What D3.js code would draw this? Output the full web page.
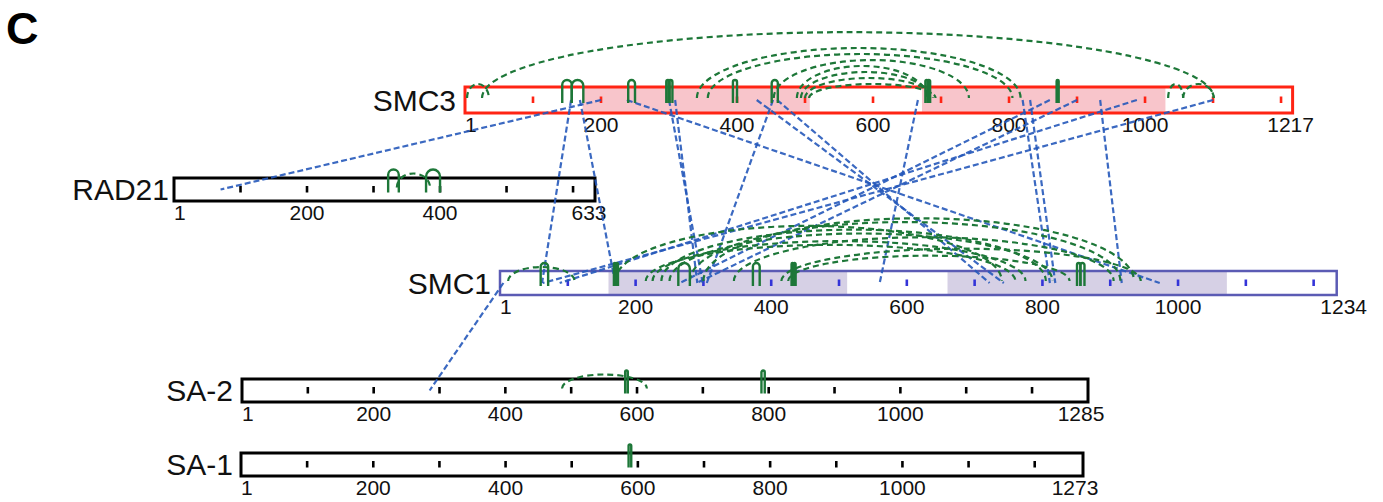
<!DOCTYPE html>
<html>
<head>
<meta charset="utf-8">
<script src="https://cdnjs.cloudflare.com/ajax/libs/d3/7.8.5/d3.min.js"></script>
<style>
  body { margin: 0; background: #fff; }
  svg { display: block; font-family: "Liberation Sans", Arial, sans-serif; }
</style>
</head>
<body>
<svg id="chart" width="1383" height="502"></svg>
<script>
// proteins and their lengths (residues)
var proteins = ["SMC3", "RAD21", "SMC1", "SA-2", "SA-1"];
var lengths = [1217, 633, 1234, 1285, 1273];
var tickLabels = [1, 200, 400, 600, 800, 1000];

// shaded coiled-coil regions
var smc3Regions = [[173, 507], [672, 1030]];
var smc1Regions = [[160, 512], [660, 1072]];

// intra-protein crosslinks (dashed green arcs)
var smc3Intra = [[3, 35], [25, 1101], [341, 817], [357, 805], [454, 741],
  [488, 680], [494, 684], [500, 688], [506, 692], [1034, 1056], [1056, 1101]];
var rad21Intra = [[335, 385]];
var smc1Intra = [[12, 110], [170, 740], [215, 760], [225, 775], [238, 805],
  [250, 815], [280, 915], [300, 935], [345, 905], [415, 945], [425, 840]];
var sa2Intra = [[486, 615]];
var sa1Intra = [];

// loop links (solid green loops)
var smc3Loops = [[143, 157], [157, 174], [240, 250], [296, 301], [299, 305],
  [394, 400], [451, 460], [677, 681], [680, 684], [870, 873]];
var rad21Loops = [[322, 338], [379, 400]];
var smc1Loops = [[60, 71], [168, 171], [171, 174], [263, 280], [373, 383],
  [430, 433], [433, 436], [851, 856], [856, 862]];
var sa2Loops = [[582, 586], [789, 794]];
var sa1Loops = [[586, 590]];

// inter-protein crosslinks (dashed blue lines)
var interLinks = [
  ["SMC3", 200, "RAD21", 70],
  ["SMC3", 156, "SMC1", 62],
  ["SMC3", 169, "SMC1", 170],
  ["SMC3", 300, "SMC1", 299],
  ["SMC3", 309, "SMC1", 291],
  ["SMC3", 453, "SMC1", 305],
  ["SMC3", 238, "SMC1", 973],
  ["SMC3", 429, "SMC1", 743],
  ["SMC3", 459, "SMC1", 722],
  ["SMC3", 1100, "SMC1", 63],
  ["SMC3", 988, "SMC1", 88],
  ["SMC3", 900, "SMC1", 290],
  ["SMC3", 860, "SMC1", 265],
  ["SMC3", 820, "SMC1", 811],
  ["SMC3", 831, "SMC1", 819],
  ["SMC3", 934, "SMC1", 917],
  ["SMC3", 666, "SMC1", 560],
  ["SMC1", 5, "SA-2", 285]
];

var intra = {"SMC3": smc3Intra, "RAD21": rad21Intra, "SMC1": smc1Intra, "SA-2": sa2Intra, "SA-1": sa1Intra};
var loops = {"SMC3": smc3Loops, "RAD21": rad21Loops, "SMC1": smc1Loops, "SA-2": sa2Loops, "SA-1": sa1Loops};
var regions = {"SMC3": smc3Regions, "SMC1": smc1Regions};

// where each bar sits on the page
var layout = {
  "SMC3":  {x0: 465, x1: 1292.6, cy: 100, h: 26, stroke: "#ff2414", sw: 3, tick: "#ff2414", fill: "#f8c5cb", labelX: 456, endDx: -2, gap: 6},
  "RAD21": {x0: 174, x1: 595, cy: 189.5, h: 23, stroke: "#000", sw: 3, tick: "#000", labelX: 169, endDx: -6, gap: 4},
  "SMC1":  {x0: 500, x1: 1336.7, cy: 283, h: 24, stroke: "#5b5bb4", sw: 2.5, tick: "#3434d8", fill: "#d6d0e5", labelX: 491, endDx: 7, gap: 3.8},
  "SA-2":  {x0: 242, x1: 1088, cy: 390.5, h: 23, stroke: "#000", sw: 3, tick: "#000", labelX: 233, endDx: -7, gap: 4},
  "SA-1":  {x0: 241, x1: 1083, cy: 464.5, h: 23, stroke: "#000", sw: 3, tick: "#000", labelX: 233, endDx: -8, gap: 4}
};

var green = "#1d7738";
var blue = "#2659bb";

var svg = d3.select("#chart");

var scales = {};
proteins.forEach(function(p, i) {
  scales[p] = d3.scaleLinear().domain([0, lengths[i]]).range([layout[p].x0, layout[p].x1]);
});

// panel letter
svg.append("text")
  .attr("x", 6)
  .attr("y", 44)
  .attr("font-size", 45)
  .attr("font-weight", "bold")
  .text("C");

// bars
var bars = svg.selectAll("g.protein")
  .data(proteins)
  .enter()
  .append("g")
  .attr("class", "protein");

bars.each(function(p, i) {
  var g = d3.select(this);
  var L = layout[p], x = scales[p], len = lengths[i];
  var top = L.cy - L.h / 2;

  g.append("rect")
    .attr("x", x(0)).attr("y", top)
    .attr("width", x(len) - x(0)).attr("height", L.h)
    .attr("fill", "#fff");

  g.selectAll("rect.region")
    .data(regions[p] || [])
    .enter()
    .append("rect")
    .attr("class", "region")
    .attr("x", function(d) { return x(d[0]); })
    .attr("y", top)
    .attr("width", function(d) { return x(d[1]) - x(d[0]); })
    .attr("height", L.h)
    .attr("fill", L.fill);

  g.selectAll("line.tick")
    .data(d3.range(100, len, 100))
    .enter()
    .append("line")
    .attr("class", "tick")
    .attr("x1", function(d) { return x(d); })
    .attr("x2", function(d) { return x(d); })
    .attr("y1", L.cy - 3.5)
    .attr("y2", L.cy + 3)
    .attr("stroke", L.tick)
    .attr("stroke-width", 2.6);

  g.append("rect")
    .attr("x", x(0)).attr("y", top)
    .attr("width", x(len) - x(0)).attr("height", L.h)
    .attr("fill", "none")
    .attr("stroke", L.stroke)
    .attr("stroke-width", L.sw);

  // tick labels
  var labs = tickLabels.filter(function(v) { return v < len - 60; }).concat([len]);
  g.selectAll("text.tl")
    .data(labs)
    .enter()
    .append("text")
    .attr("class", "tl")
    .attr("x", function(d) { return d == 1 ? x(0) : (d == len ? x(d) + L.endDx : x(d)); })
    .attr("y", top + L.h + 19)
    .attr("text-anchor", function(d) { return d == 1 ? "start" : "middle"; })
    .attr("font-size", 21)
    .attr("fill", "#111")
    .text(function(d) { return d; });

  // protein name
  g.append("text")
    .attr("x", L.labelX)
    .attr("y", L.cy + 10.5)
    .attr("text-anchor", "end")
    .attr("font-size", 30)
    .attr("fill", "#111")
    .text(p);
});

// inter-protein links
svg.append("g")
  .selectAll("line")
  .data(interLinks)
  .enter()
  .append("line")
  .attr("x1", function(d) { return scales[d[0]](d[1]); })
  .attr("y1", function(d) { return layout[d[0]].cy; })
  .attr("x2", function(d) { return scales[d[2]](d[3]); })
  .attr("y2", function(d) { return layout[d[2]].cy; })
  .attr("stroke", blue)
  .attr("stroke-width", 2.2)
  .attr("stroke-dasharray", "6,3")
  .attr("opacity", 0.9);

// intra links: stack overlapping arcs so they don't sit on top of each other
function arcHeights(p) {
  var x = scales[p], gap = layout[p].gap;
  var arcs = intra[p].map(function(d) {
    return {a: x(d[0]), b: x(d[1])};
  });
  arcs.sort(function(m, n) { return (m.b - m.a) - (n.b - n.a); });
  arcs.forEach(function(arc, i) {
    var h = Math.max(14, 0.09 * (arc.b - arc.a));
    for (var j = 0; j < i; j++) {
      var o = arcs[j];
      if (o.a < arc.b && o.b > arc.a) h = Math.max(h, o.h + gap);
    }
    arc.h = h;
  });
  return arcs;
}

proteins.forEach(function(p) {
  var L = layout[p], x = scales[p];
  var y0 = L.cy - 2;

  svg.append("g")
    .selectAll("path")
    .data(arcHeights(p))
    .enter()
    .append("path")
    .attr("d", function(d) {
      var rx = (d.b - d.a) / 2;
      return "M" + d.a + "," + y0 + " A" + rx + "," + d.h + " 0 0 1 " + d.b + "," + y0;
    })
    .attr("fill", "none")
    .attr("stroke", green)
    .attr("stroke-width", 2.2)
    .attr("stroke-dasharray", "6,4");

  // loop links drawn as little solid hairpins
  svg.append("g")
    .selectAll("path")
    .data(loops[p])
    .enter()
    .append("path")
    .attr("d", function(d) {
      var a = x(d[0]), b = x(d[1]);
      var r = (b - a) / 2, yt = L.cy - 20 + r;
      return "M" + a + "," + (L.cy + 3) + " L" + a + "," + yt +
        " A" + r + "," + r + " 0 0 1 " + b + "," + yt + " L" + b + "," + (L.cy + 3);
    })
    .attr("fill", "none")
    .attr("stroke", green)
    .attr("stroke-width", 2.4);
});
</script>
</body>
</html>
